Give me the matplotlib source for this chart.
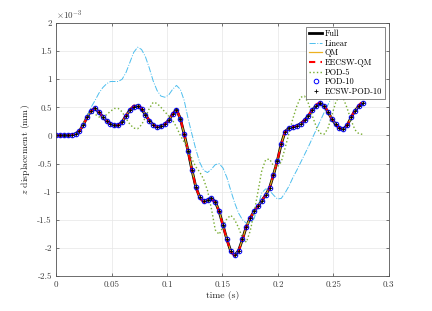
import numpy as np
import matplotlib
matplotlib.use("Agg")
import matplotlib.pyplot as plt
from matplotlib.ticker import FuncFormatter

plt.rcParams["font.family"] = "serif"
plt.rcParams["font.serif"] = ["cmr10", "DejaVu Serif"]
plt.rcParams["mathtext.fontset"] = "cm"
plt.rcParams["axes.formatter.use_mathtext"] = True

# sample times (s), 80 samples
time = np.linspace(0, 0.2765, 80)

# z displacement in units of 1e-3 mm
full_disp = [0, 0, 0, 0, 0.01, 0.03, 0.08, 0.19, 0.33, 0.44,
             0.48, 0.42, 0.33, 0.26, 0.21, 0.18, 0.18, 0.24, 0.35, 0.45,
             0.51, 0.53, 0.47, 0.37, 0.26, 0.19, 0.15, 0.16, 0.20, 0.27,
             0.38, 0.46, 0.30, 0.02, -0.28, -0.62, -0.92, -1.10, -1.17, -1.15,
             -1.12, -1.18, -1.35, -1.60, -1.85, -2.06, -2.13, -2.05, -1.85, -1.62,
             -1.47, -1.35, -1.26, -1.16, -1.06, -0.93, -0.70, -0.45, -0.15, 0.07,
             0.13, 0.15, 0.17, 0.21, 0.27, 0.35, 0.45, 0.53, 0.57, 0.53,
             0.42, 0.30, 0.20, 0.13, 0.11, 0.18, 0.32, 0.44, 0.52, 0.58]

linear_disp = [0, 0, 0, 0, 0.01, 0.03, 0.08, 0.20, 0.35, 0.50,
               0.62, 0.75, 0.85, 0.92, 0.96, 0.96, 0.96, 1.00, 1.12, 1.30,
               1.48, 1.57, 1.53, 1.40, 1.20, 0.97, 0.80, 0.70, 0.68, 0.72,
               0.82, 0.89, 0.82, 0.62, 0.30, 0.02, -0.25, -0.48, -0.62, -0.66,
               -0.60, -0.52, -0.50, -0.58, -0.75, -0.98, -1.20, -1.38, -1.50, -1.56,
               -1.56, -1.48, -1.25, -1.02, -0.95, -0.98, -1.06, -1.13, -1.12, -1.02,
               -0.90, -0.75, -0.62, -0.48, -0.34, -0.20, -0.05, 0.10, 0.25, 0.40,
               0.54, 0.68, 0.80, 0.95, 1.12, 1.28, 1.38, 1.36, 1.25, 1.15]

qm_disp = [0, 0, 0, 0, 0.01, 0.03, 0.08, 0.19, 0.33, 0.44,
           0.48, 0.42, 0.33, 0.26, 0.21, 0.18, 0.18, 0.24, 0.35, 0.45,
           0.52, 0.54, 0.48, 0.37, 0.26, 0.19, 0.15, 0.16, 0.20, 0.27,
           0.38, 0.46, 0.30, 0.02, -0.28, -0.62, -0.92, -1.10, -1.17, -1.15,
           -1.12, -1.18, -1.35, -1.60, -1.85, -2.06, -2.13, -2.05, -1.85, -1.62,
           -1.47, -1.35, -1.26, -1.16, -1.06, -0.93, -0.70, -0.45, -0.15, 0.07,
           0.13, 0.15, 0.17, 0.21, 0.27, 0.35, 0.45, 0.54, 0.58, 0.54,
           0.42, 0.30, 0.20, 0.13, 0.11, 0.18, 0.32, 0.44, 0.53, 0.59]

eecsw_qm_disp = [0, 0, 0, 0, 0.01, 0.03, 0.08, 0.19, 0.33, 0.44,
                 0.49, 0.42, 0.33, 0.26, 0.21, 0.18, 0.18, 0.24, 0.36, 0.46,
                 0.53, 0.55, 0.49, 0.38, 0.26, 0.19, 0.15, 0.16, 0.20, 0.27,
                 0.38, 0.47, 0.30, 0.02, -0.28, -0.62, -0.92, -1.11, -1.19, -1.17,
                 -1.14, -1.19, -1.36, -1.61, -1.86, -2.07, -2.14, -2.06, -1.86, -1.63,
                 -1.47, -1.35, -1.26, -1.16, -1.06, -0.93, -0.70, -0.45, -0.15, 0.07,
                 0.13, 0.15, 0.17, 0.21, 0.27, 0.36, 0.46, 0.55, 0.59, 0.55,
                 0.43, 0.30, 0.20, 0.13, 0.11, 0.18, 0.33, 0.45, 0.54, 0.61]

pod5_disp = [0, 0, 0, 0, 0.0, 0.03, 0.10, 0.22, 0.35, 0.41,
             0.38, 0.33, 0.33, 0.37, 0.43, 0.48, 0.48, 0.42, 0.30, 0.20,
             0.13, 0.12, 0.19, 0.32, 0.48, 0.59, 0.57, 0.50, 0.42, 0.35,
             0.27, 0.15, 0.0, -0.12, -0.24, -0.42, -0.56, -0.65, -0.78, -0.98,
             -1.30, -1.68, -1.76, -1.62, -1.48, -1.42, -1.50, -1.64, -1.82, -1.90,
             -1.70, -1.38, -1.00, -0.62, -0.43, -0.42, -0.54, -0.56, -0.47, -0.22,
             0.04, 0.30, 0.52, 0.68, 0.70, 0.57, 0.35, 0.16, 0.04, 0.02,
             0.12, 0.35, 0.58, 0.71, 0.66, 0.48, 0.27, 0.10, 0.03, 0.02]

# POD-10 and ECSW-POD-10 sit on the full solution
pod10_disp = list(full_disp)
ecsw_pod10_disp = list(full_disp)

fig = plt.figure(figsize=(4.32, 3.11), dpi=100)
ax = fig.add_axes([0.13, 0.1125, 0.77, 0.8135])

ax.plot(time, full_disp, color="black", lw=2.0, label="Full")
ax.plot(time[:len(linear_disp) - 1], linear_disp[:-1], color="#4DBEEE", lw=0.7,
        ls="-.", label="Linear")
ax.plot(time, qm_disp, color="#EDB120", lw=0.9, label="QM")
ax.plot(time, eecsw_qm_disp, color="red", lw=1.5, ls=(0, (3, 2.5)), label="EECSW-QM")
ax.plot(time, pod5_disp, color="#77AC30", lw=1.0, ls=":", label="POD-5")
ax.plot(time, pod10_disp, ls="none", marker="o", ms=3.3, mfc="none", mec="blue",
        mew=0.7, label="POD-10")
ax.plot(time, ecsw_pod10_disp, ls="none", marker="+", ms=3.0, color="black",
        mew=0.6, label="ECSW-POD-10")

ax.set_xlim(0, 0.3)
ax.set_ylim(-2.5, 2)
ax.set_xticks([0, 0.05, 0.1, 0.15, 0.2, 0.25, 0.3])
ax.set_yticks([-2.5, -2, -1.5, -1, -0.5, 0, 0.5, 1, 1.5, 2])
fmt = FuncFormatter(lambda v, p: "%g" % round(v, 4))
ax.xaxis.set_major_formatter(fmt)
ax.yaxis.set_major_formatter(fmt)

ax.tick_params(direction="in", length=2.5, width=0.5, labelsize=6.5,
               colors="#404040", top=True, right=True, pad=3)
for s in ax.spines.values():
    s.set_color("#555555")
    s.set_linewidth(0.6)
ax.grid(True, color="#e6e6e6", lw=0.5)
ax.set_axisbelow(True)

ax.set_xlabel("time (s)", fontsize=7, color="#262626", labelpad=2)
ax.set_ylabel(r"$z$ displacement (mm)", fontsize=7, color="#262626", labelpad=4)
ax.text(0.0, 1.005, r"$\times10^{-3}$", transform=ax.transAxes, fontsize=6.5,
        color="#404040", va="bottom", ha="left")

leg = ax.legend(loc="upper right", fontsize=6, handlelength=1.6, handletextpad=0.3,
                labelspacing=0.15, borderpad=0.3, borderaxespad=0.5,
                fancybox=False, framealpha=1, edgecolor="#555555")
leg.get_frame().set_linewidth(0.5)

plt.savefig("out.png", dpi=100)
